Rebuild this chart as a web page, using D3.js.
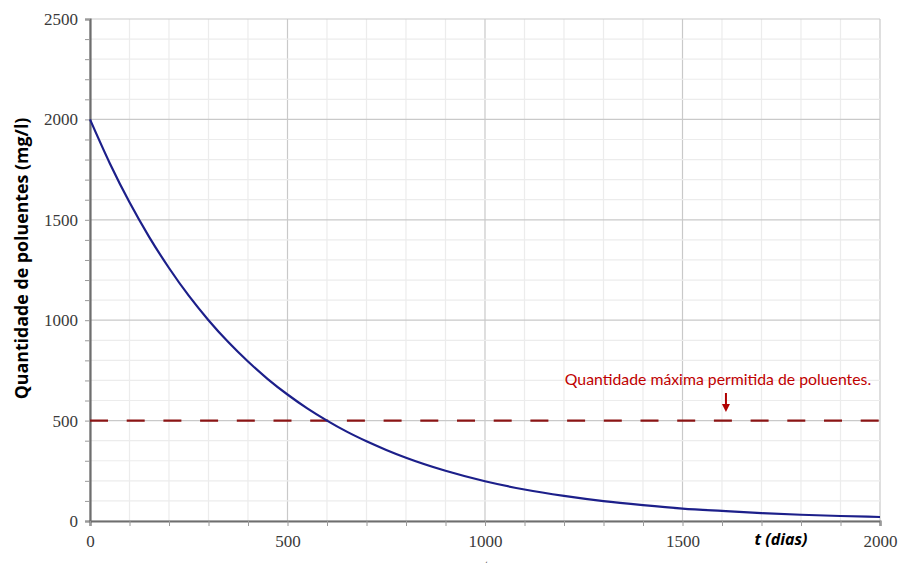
<!DOCTYPE html>
<html>
<head>
<meta charset="utf-8">
<script src="https://cdn.jsdelivr.net/npm/d3@7"></script>
<style>
  html, body { margin: 0; padding: 0; background: #fff; }
  svg { display: block; }
  .tick text { font-family: "Liberation Serif", "DejaVu Serif", serif; }
</style>
</head>
<body>
<svg id="chart" width="901" height="563"></svg>
<script>
// Pollutant concentration over time (days)
const days = [0, 50, 100, 150, 200, 250, 300, 350, 400, 450, 500, 550, 600, 650, 700, 750, 800, 900, 1000, 1100, 1200, 1300, 1400, 1500, 1600, 1700, 1800, 1900, 2000];
const amount = [2000, 1782, 1587, 1414, 1260, 1122, 1000, 891, 794, 707, 630, 561, 500, 445, 397, 354, 315, 250, 198, 157, 125, 99, 79, 62, 50, 39, 31, 25, 20];
const limitValue = 500;
const xTicks = [0, 500, 1000, 1500, 2000];
const yTicks = [0, 500, 1000, 1500, 2000, 2500];
const xMinor = d3.range(0, 2001, 100);
const yMinor = d3.range(0, 2501, 100);
const yTitle = "Quantidade de poluentes (mg/l)";
const xTitle = "t (dias)";
const limitNote = "Quantidade máxima permitida de poluentes.";
const limitNoteDay = 1610;

const svg = d3.select("#chart");
const plotLeft = 90, plotRight = 880, plotTop = 19, plotBottom = 521;

const x = d3.scaleLinear().domain([0, 2000]).range([plotLeft, plotRight]);
const y = d3.scaleLinear().domain([0, 2500]).range([plotBottom, plotTop]);

// grid: light lines every 100, darker every 500
const grid = svg.append("g");
grid.selectAll("line.vx").data(xMinor).join("line")
  .attr("x1", d => x(d)).attr("x2", d => x(d))
  .attr("y1", plotTop).attr("y2", plotBottom)
  .attr("stroke", d => xTicks.includes(d) ? "#c9c9c9" : "#ececec")
  .attr("stroke-width", 1.2);
grid.selectAll("line.hy").data(yMinor).join("line")
  .attr("x1", plotLeft).attr("x2", plotRight)
  .attr("y1", d => y(d)).attr("y2", d => y(d))
  .attr("stroke", d => yTicks.includes(d) ? "#c9c9c9" : "#ececec")
  .attr("stroke-width", 1.2);

// axes
const yAxis = svg.append("g").attr("transform", `translate(${plotLeft},0)`)
  .call(d3.axisLeft(y).tickValues(yMinor).tickSize(5).tickFormat(d => yTicks.includes(d) ? d : ""));
const xAxis = svg.append("g").attr("transform", `translate(0,${plotBottom})`)
  .call(d3.axisBottom(x).tickValues(xMinor).tickSize(5).tickFormat(d => xTicks.includes(d) ? d : ""));

[xAxis, yAxis].forEach(a => {
  a.attr("font-family", null);
  a.select(".domain").attr("stroke", "#6e6e6e").attr("stroke-width", 2.2);
  a.selectAll(".tick line").attr("stroke", "#9a9a9a").attr("stroke-width", 1);
  a.selectAll(".tick text")
    .style("font-family", "'Liberation Serif', 'DejaVu Serif', serif")
    .attr("font-size", 17).attr("fill", "#3a3a3a");
});
yAxis.selectAll(".tick text").attr("x", -12);
xAxis.selectAll(".tick text").attr("y", 14);

// limit line
svg.append("line")
  .attr("x1", x(0)).attr("x2", x(2000))
  .attr("y1", y(limitValue)).attr("y2", y(limitValue))
  .attr("stroke", "#8b1414").attr("stroke-width", 2.4)
  .attr("stroke-dasharray", "18,18.7");

// concentration curve
svg.append("path")
  .datum(days.map((d, i) => [d, amount[i]]))
  .attr("fill", "none")
  .attr("stroke", "#1c1f8a")
  .attr("stroke-width", 2.2)
  .attr("d", d3.line().x(d => x(d[0])).y(d => y(d[1])).curve(d3.curveMonotoneX));

// annotation
svg.append("text")
  .attr("x", 718).attr("y", 385)
  .attr("text-anchor", "middle")
  .attr("font-family", "Lato, 'Open Sans', sans-serif")
  .attr("font-size", 15.8).attr("fill", "#c00000")
  .text(limitNote);
const ax = x(limitNoteDay);
svg.append("line")
  .attr("x1", ax).attr("x2", ax).attr("y1", 393).attr("y2", 405)
  .attr("stroke", "#b00000").attr("stroke-width", 2);
svg.append("path")
  .attr("d", `M${ax - 4},404 L${ax + 4},404 L${ax},412 Z`)
  .attr("fill", "#b00000");

// titles
svg.append("text")
  .attr("transform", `translate(28,${(112 + 405) / 2}) rotate(-90)`)
  .attr("text-anchor", "middle")
  .attr("font-family", "'Open Sans', sans-serif")
  .attr("font-weight", "bold").attr("font-size", 17.8).attr("fill", "#000")
  .text(yTitle);
svg.append("text")
  .attr("x", 781).attr("y", 545)
  .attr("text-anchor", "middle")
  .attr("font-family", "'Open Sans', sans-serif")
  .attr("font-weight", "bold").attr("font-style", "italic")
  .attr("font-size", 16).attr("fill", "#000")
  .text(xTitle);
svg.append("text")
  .attr("x", 486).attr("y", 569)
  .attr("text-anchor", "middle")
  .attr("font-family", "'Liberation Serif', serif")
  .attr("font-style", "italic").attr("font-size", 13).attr("fill", "#555")
  .text("t");
</script>
</body>
</html>
